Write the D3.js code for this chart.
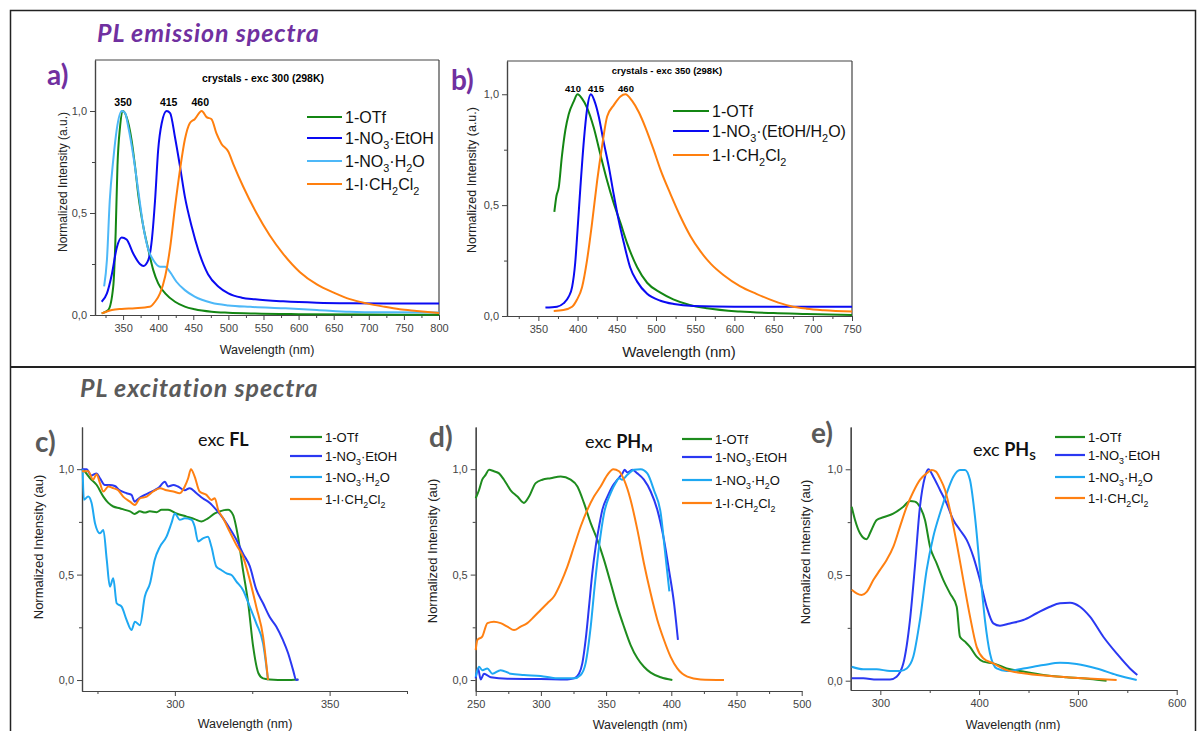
<!DOCTYPE html>
<html>
<head>
<meta charset="utf-8">
<script src="https://cdn.jsdelivr.net/npm/d3@7"></script>
<style>
  body { margin: 0; background: #fff; }
  svg text { font-family: "Liberation Sans", Arial, sans-serif; }
</style>
</head>
<body>
<div id="fig"></div>
<script>
// ---- a) emission, exc 300 ----
const aOTf = [[319.5,0.008],[329,0.025],[336,0.14],[339.4,0.40],[342,0.73],[345.6,0.92],[350,1.0],[355,0.97],[362,0.86],[367,0.73],[372,0.58],[379,0.43],[386,0.32],[393,0.22],[400,0.155],[410,0.106],[424,0.065],[438,0.041],[452,0.028],[476,0.016],[500,0.011],[538,0.007],[600,0.004],[700,0.002],[800,0.001]];
const aNO3EtOH = [[319.5,0.065],[327,0.106],[334,0.20],[341,0.33],[348,0.38],[355,0.37],[364.6,0.30],[374,0.25],[379,0.24],[386,0.27],[391,0.37],[395.5,0.56],[400,0.81],[405,0.94],[412,1.0],[417,0.99],[424,0.87],[431,0.73],[438,0.58],[448,0.43],[457,0.32],[471,0.20],[486,0.139],[500,0.106],[519,0.085],[538,0.077],[578,0.067],[626,0.06],[673,0.057],[721,0.056],[800,0.056]];
const aNO3H2O = [[323,0.14],[327,0.27],[331,0.56],[336,0.76],[341,0.91],[348,1.0],[353,0.99],[357.5,0.92],[364.6,0.78],[372,0.60],[379,0.43],[386,0.32],[393,0.27],[402.6,0.237],[410,0.237],[417,0.21],[426,0.163],[438,0.122],[452,0.09],[476,0.06],[500,0.047],[531,0.04],[578,0.033],[626,0.025],[673,0.016],[721,0.013],[800,0.012]];
const aICH2Cl2 = [[319.5,0.008],[334,0.025],[348,0.03],[367,0.033],[388,0.04],[395.5,0.065],[402.6,0.106],[410,0.19],[417,0.33],[424,0.53],[431,0.71],[438,0.86],[445,0.94],[452,0.96],[462,1.0],[469,0.97],[476,0.96],[483,0.89],[490,0.84],[500,0.80],[507,0.74],[521,0.63],[540,0.50],[559,0.39],[578,0.30],[602,0.21],[626,0.15],[650,0.11],[673,0.078],[697,0.057],[721,0.041],[744,0.028],[768,0.02],[800,0.01]];

// ---- b) emission, exc 350 ----
const bOTf = [[370.4,0.47],[373,0.54],[376,0.58],[380,0.72],[384.5,0.84],[388.7,0.91],[395,0.967],[400,1.0],[405.7,0.98],[412,0.94],[420.6,0.85],[429,0.73],[437.7,0.61],[446,0.51],[454.7,0.42],[463,0.33],[476,0.22],[488.7,0.15],[505.7,0.105],[522,0.075],[543,0.05],[565,0.035],[607,0.02],[650,0.013],[692,0.009],[750,0.004]];
const bNO3 = [[359,0.038],[373.8,0.042],[382,0.057],[388.7,0.087],[393,0.13],[397,0.24],[400,0.39],[403.6,0.58],[408,0.79],[412,0.93],[417,1.0],[421.5,0.97],[427,0.90],[433,0.79],[440,0.67],[446,0.55],[452.5,0.43],[459,0.33],[467,0.22],[476,0.155],[488.7,0.10],[505.7,0.069],[522.8,0.054],[548,0.045],[600,0.042],[650,0.042],[700,0.042],[750,0.042]];
const bICH2Cl2 = [[369.6,0.023],[382,0.027],[393,0.042],[399,0.072],[405.7,0.13],[412,0.25],[418.5,0.42],[425,0.61],[431,0.76],[437.7,0.90],[446,0.95],[454.7,0.99],[461,1.0],[469.6,0.97],[478,0.92],[486.6,0.85],[497,0.75],[505.7,0.66],[518.5,0.55],[531,0.45],[544,0.36],[557,0.29],[570,0.235],[586,0.185],[607,0.135],[628,0.1],[650,0.068],[671,0.045],[692,0.033],[714,0.026],[750,0.02]];

// ---- c) excitation FL ----
const cOTf = [[270.4,1.0],[272.6,0.957],[274.7,0.926],[276.9,0.87],[278.5,0.84],[280.1,0.823],[282.2,0.815],[283.9,0.807],[285.5,0.80],[287,0.788],[288.7,0.80],[290.3,0.794],[291.9,0.80],[294.1,0.796],[295.7,0.807],[297.8,0.807],[300.5,0.79],[303.8,0.775],[306.4,0.763],[308.6,0.752],[310.7,0.767],[312.9,0.79],[314.5,0.80],[317.2,0.807],[318.8,0.783],[320.4,0.68],[322,0.522],[323.7,0.364],[325.3,0.158],[327,0.032],[328.5,0.008],[330.6,0.003],[336,0.0],[339.8,0.003]];
const cNO3EtOH = [[269.9,1.0],[271.5,1.0],[273,0.97],[274.7,0.98],[275.8,0.957],[277.4,0.925],[279,0.925],[280.6,0.92],[282.2,0.90],[284.4,0.886],[286,0.878],[287,0.846],[288.2,0.86],[290.3,0.878],[292.5,0.894],[294.6,0.91],[296.8,0.94],[297.8,0.918],[299.5,0.925],[301,0.918],[303.2,0.90],[304.8,0.91],[307,0.886],[309,0.862],[311.3,0.84],[313.4,0.807],[315.6,0.767],[317.7,0.72],[319.9,0.665],[322,0.60],[324.2,0.54],[326.3,0.43],[328.5,0.364],[330.6,0.30],[332.8,0.253],[334.9,0.19],[336.6,0.127],[338.2,0.047],[339.2,0.0],[340,0.003]];
const cNO3H2O = [[270.2,1.0],[270.6,0.855],[272,0.87],[273.1,0.84],[274.2,0.744],[275.8,0.696],[276.9,0.712],[278,0.57],[279,0.443],[280.1,0.483],[281.2,0.364],[282.8,0.348],[284.4,0.285],[286,0.237],[287.1,0.277],[288.7,0.26],[290.3,0.396],[292,0.46],[293.5,0.57],[295.2,0.633],[297.3,0.68],[298.9,0.744],[300,0.79],[301.6,0.76],[303.2,0.767],[305.4,0.76],[306.4,0.728],[307.5,0.657],[309.1,0.672],[310.7,0.68],[311.8,0.633],[313.4,0.538],[315,0.522],[316.7,0.506],[318.3,0.498],[319.9,0.467],[322,0.427],[324.2,0.348],[326.3,0.269],[328.5,0.174],[330.1,0.0]];
const cICH2Cl2 = [[270,0.99],[272,0.99],[273.6,0.95],[274.7,0.976],[275.8,0.934],[276.9,0.894],[278.5,0.918],[280.1,0.91],[281.7,0.90],[283.3,0.87],[285.5,0.846],[287.1,0.83],[288.7,0.862],[290.9,0.87],[293,0.894],[295.2,0.91],[297.3,0.90],[299.5,0.894],[301.6,0.886],[303.2,0.918],[304.3,0.957],[305.2,1.0],[306.4,0.965],[308,0.894],[310.2,0.878],[311.8,0.854],[312.9,0.862],[314,0.807],[315.6,0.767],[317.7,0.704],[319.9,0.64],[322,0.585],[324.2,0.475],[326.3,0.348],[328.5,0.206],[330.1,0.0]];

// ---- d) excitation PH_M ----
const dOTf = [[250,0.862],[252.5,0.90],[255,0.95],[257.6,0.973],[260.2,0.997],[264,0.99],[267.9,0.98],[271.7,0.95],[276.8,0.90],[282,0.87],[287,0.84],[290.9,0.87],[296,0.934],[301.1,0.95],[307.5,0.957],[315.2,0.965],[322.8,0.95],[328,0.918],[333,0.84],[338.2,0.744],[343.3,0.665],[348.4,0.57],[353.5,0.46],[358.6,0.348],[363.7,0.253],[368.8,0.166],[374,0.103],[379,0.063],[384.2,0.035],[391.9,0.013],[400.8,0.0]];
const dNO3EtOH = [[250,0.008],[251.8,0.055],[253.8,0.003],[256.4,0.03],[261.5,0.013],[274.3,0.006],[299.8,0.005],[320.3,0.003],[325.4,0.008],[329.2,0.03],[331.8,0.08],[334.3,0.19],[336.9,0.348],[339.4,0.506],[342,0.633],[344.6,0.728],[347.1,0.807],[351,0.87],[354.8,0.918],[358.6,0.95],[362.5,0.98],[364.2,0.997],[366.3,0.984],[370.1,0.997],[374,0.98],[379,0.95],[384.2,0.894],[389.3,0.807],[394.4,0.665],[398.2,0.522],[402.1,0.364],[405.1,0.19]];
const dNO3H2O = [[250,0.016],[252.5,0.063],[255.1,0.047],[258.9,0.055],[262.8,0.03],[269.1,0.047],[276.8,0.03],[287,0.024],[299.8,0.019],[312.6,0.008],[325.4,0.008],[330.5,0.024],[334.3,0.08],[338.2,0.253],[341.2,0.443],[344.6,0.633],[348.4,0.79],[353.5,0.886],[357.3,0.934],[359.9,0.957],[362.4,0.95],[366.3,0.973],[371.4,0.997],[376.5,1.0],[381.6,0.98],[386.7,0.90],[391.9,0.79],[395,0.62],[398.5,0.42]];
const dICH2Cl2 = [[250,0.142],[251.3,0.19],[255,0.206],[259,0.27],[264,0.277],[269.1,0.27],[274.3,0.253],[279.4,0.237],[284.5,0.253],[289.6,0.27],[294.7,0.30],[299.8,0.332],[305,0.364],[310,0.396],[315.2,0.46],[320.3,0.538],[325.4,0.633],[330.5,0.728],[335.6,0.807],[340.7,0.87],[345.8,0.918],[351,0.973],[355.5,1.0],[359.9,0.99],[363.7,0.95],[368.8,0.854],[374,0.712],[379,0.554],[384.2,0.41],[389.3,0.285],[394.4,0.19],[399.5,0.11],[404.6,0.055],[412.3,0.016],[422.5,0.003],[440.4,0.0]];

// ---- e) excitation PH_S ----
const eOTf = [[271,0.823],[274.4,0.76],[279.4,0.697],[286,0.669],[291,0.713],[296.3,0.76],[303,0.773],[313,0.79],[323.3,0.823],[330,0.85],[335,0.847],[340,0.823],[345.2,0.76],[350.3,0.634],[357,0.555],[363.8,0.476],[370.5,0.413],[377.3,0.35],[380.6,0.208],[385.7,0.185],[390.7,0.16],[397.5,0.114],[404.2,0.09],[414.4,0.082],[427.9,0.058],[444.7,0.043],[465,0.027],[488.6,0.016],[512.2,0.008],[529,0.0]];
const eNO3EtOH = [[271,0.011],[282.8,0.011],[296.3,0.006],[309.8,0.006],[316.5,0.019],[323.3,0.082],[330,0.287],[335,0.539],[340.1,0.823],[345.2,0.965],[348.6,1.0],[353.6,0.965],[360.4,0.902],[367.1,0.839],[373.9,0.76],[380.6,0.713],[387.4,0.666],[394.1,0.587],[400.9,0.476],[407.6,0.35],[414.4,0.271],[421.1,0.26],[431.2,0.271],[444.7,0.287],[458.2,0.319],[471.7,0.35],[481.9,0.366],[492,0.369],[502.1,0.35],[512.2,0.303],[525.7,0.208],[539.2,0.129],[552.7,0.058],[560.1,0.027]];
const eNO3H2O = [[271,0.066],[282.8,0.054],[296.3,0.054],[309.8,0.046],[319.9,0.046],[326.7,0.058],[333.4,0.114],[340.1,0.287],[346.9,0.524],[353.6,0.681],[360.4,0.792],[367.1,0.886],[373.9,0.965],[380.6,0.997],[385.7,0.997],[390.7,0.95],[395.8,0.776],[400.9,0.524],[405.9,0.287],[411,0.129],[417.7,0.058],[427.9,0.046],[444.7,0.058],[465,0.074],[481.9,0.085],[498.7,0.079],[519,0.058],[539.2,0.027],[559.5,0.003]];
const eICH2Cl2 = [[271,0.43],[276,0.413],[281.1,0.405],[286.2,0.42],[292.9,0.476],[299.7,0.524],[306.4,0.571],[313.2,0.634],[319.9,0.729],[326.7,0.823],[333.4,0.894],[340.1,0.95],[346.9,0.981],[351.9,0.997],[356.3,0.989],[360.4,0.957],[365.5,0.902],[370.5,0.808],[377.3,0.65],[384,0.476],[390.8,0.303],[397.5,0.16],[404.2,0.106],[414.4,0.082],[427.9,0.05],[444.7,0.035],[471.7,0.022],[505.5,0.011],[539.2,0.003]];

// legend labels (_x = subscript)
const labels4 = ["1-OTf", "1-NO_3·EtOH", "1-NO_3·H_2O", "1-I·CH_2Cl_2"];
const labelsB = ["1-OTf", "1-NO_3·(EtOH/H_2O)", "1-I·CH_2Cl_2"];
const peaksA = [350, 415, 460];
const peaksB = [410, 415, 460];

const colTop = ["#138613", "#0a0af2", "#4db8f8", "#ff7f0e"];
const colBot = ["#1e8c1e", "#2a38f2", "#1ea8f2", "#ff8012"];

const svg = d3.select("#fig").append("svg").attr("width", 1200).attr("height", 731);

// outer frame + divider
svg.append("rect").attr("x", 10.5).attr("y", 10.5).attr("width", 1185).attr("height", 730)
   .attr("fill", "none").attr("stroke", "#222").attr("stroke-width", 1.5);
svg.append("line").attr("x1", 10).attr("x2", 1196).attr("y1", 367).attr("y2", 367)
   .attr("stroke", "#222").attr("stroke-width", 2);

svg.append("text").attr("x", 97).attr("y", 42).text("PL emission spectra")
   .style("font-family", "Lato, 'Open Sans', sans-serif").style("font-style", "italic")
   .style("font-weight", "bold").style("font-size", "25px").style("letter-spacing", "0.9px").attr("fill", "#7030a0");
svg.append("text").attr("x", 80).attr("y", 397).text("PL excitation spectra")
   .style("font-family", "Lato, 'Open Sans', sans-serif").style("font-style", "italic")
   .style("font-weight", "bold").style("font-size", "25px").style("letter-spacing", "0.9px").attr("fill", "#5a5a5a");

const comma = d => d3.format(".1f")(d).replace(".", ",");

function richText(sel, str, fs) {
    const parts = str.split(/_(\w)/);
    parts.forEach((p, i) => {
        if (!p) return;
        const t = sel.append("tspan").text(p);
        if (i % 2 === 1) t.attr("dy", fs * 0.3).style("font-size", (fs * 0.68) + "px");
        else if (i > 0) t.attr("dy", -fs * 0.3);
    });
}

function drawPanel(p) {
    const g = svg.append("g");
    const x = d3.scaleLinear().domain(p.xd).range(p.xr);
    const y = d3.scaleLinear().domain(p.yd).range(p.yr);

    const xAxis = g.append("g").attr("transform", `translate(0,${p.yr[0]})`)
        .call(d3.axisBottom(x).tickValues(p.xMajor).tickSize(5).tickSizeOuter(0).tickFormat(d3.format("d")));
    g.append("g").attr("transform", `translate(0,${p.yr[0]})`)
        .call(d3.axisBottom(x).tickValues(p.xMinor).tickSize(3).tickSizeOuter(0).tickFormat(""));
    g.append("g").attr("transform", `translate(${p.xr[0]},0)`)
        .call(d3.axisLeft(y).tickValues([0, 0.5, 1]).tickSize(5).tickSizeOuter(0).tickFormat(comma));
    g.append("g").attr("transform", `translate(${p.xr[0]},0)`)
        .call(d3.axisLeft(y).tickValues([0.25, 0.75]).tickSize(3).tickSizeOuter(0).tickFormat(""));
    g.selectAll(".domain").attr("stroke", "#444").attr("stroke-width", 1.2);
    g.selectAll(".tick line").attr("stroke", "#444");
    g.selectAll(".tick text").attr("fill", "#444").style("font-size", "11px")
     .style("font-family", "'Liberation Sans', Arial, sans-serif");
    xAxis.selectAll(".tick text").attr("y", 9);
    if (p.frame) {
        g.append("line").attr("x1", p.xr[0]).attr("x2", p.xr[1]).attr("y1", p.yr[1]).attr("y2", p.yr[1]).attr("stroke", "#444").attr("stroke-width", 1.2);
        g.append("line").attr("x1", p.xr[1]).attr("x2", p.xr[1]).attr("y1", p.yr[0]).attr("y2", p.yr[1]).attr("stroke", "#444").attr("stroke-width", 1.2);
    }

    const line = d3.line().x(d => x(d[0])).y(d => y(d[1])).curve(d3.curveMonotoneX);
    p.series.forEach((s, i) => {
        g.append("path").datum(s).attr("d", line).attr("fill", "none")
         .attr("stroke", p.colors[i]).attr("stroke-width", 2).attr("stroke-linejoin", "round");
    });

    // legend
    p.labels.forEach((lab, i) => {
        const ly = p.leg.y[i];
        g.append("line").attr("x1", p.leg.x).attr("x2", p.leg.x + p.leg.len)
         .attr("y1", ly).attr("y2", ly).attr("stroke", p.colors[i]).attr("stroke-width", 2.2);
        const t = g.append("text").attr("x", p.leg.x + p.leg.len + 3).attr("y", ly + p.leg.fs * 0.36)
         .style("font-size", p.leg.fs + "px").attr("fill", "#111");
        richText(t, lab, p.leg.fs);
    });

    // axis titles
    g.append("text").attr("x", p.xl[0]).attr("y", p.xl[1]).attr("text-anchor", "middle")
     .style("font-size", p.xl[2] + "px").attr("fill", "#222").text("Wavelength (nm)");
    g.append("text").attr("transform", `translate(${p.yl[0]},${p.yl[1]}) rotate(-90)`)
     .attr("text-anchor", "middle").attr("dy", "0.35em")
     .style("font-size", p.yl[2] + "px").attr("fill", "#222").text(p.yl[3]);

    // panel letter
    g.append("text").attr("x", p.letter[0]).attr("y", p.letter[1]).text(p.letter[2])
     .style("font-family", "Lato, 'Open Sans', sans-serif").style("font-weight", "bold")
     .style("font-size", "28px").attr("fill", p.letter[3]);
    return { g, x, y };
}

// a)
const pa = drawPanel({
    xd: [310, 800], xr: [95, 439], yd: [0, 1.25], yr: [315, 60], frame: true,
    xMajor: d3.range(350, 801, 50), xMinor: d3.range(325, 800, 50),
    series: [aOTf, aNO3EtOH, aNO3H2O, aICH2Cl2], colors: colTop, labels: labels4,
    leg: { x: 307, len: 35, fs: 16, y: [117, 138, 161, 184] },
    xl: [267, 354, 12.5], yl: [63, 182, 12, "Normalized Intensity (a.u.)"],
    letter: [47, 85, "a)", "#7030a0"]
});
pa.g.append("text").attr("x", 263).attr("y", 82).attr("text-anchor", "middle")
    .style("font-size", "10.5px").style("font-weight", "bold").text("crystals - exc 300 (298K)");
pa.g.selectAll(".peak").data(peaksA).join("text")
    .attr("x", d => pa.x(d)).attr("y", 105.5).attr("text-anchor", "middle")
    .style("font-size", "10.5px").style("font-weight", "bold").text(d => d);

// b)
const pb = drawPanel({
    xd: [310, 750], xr: [507, 852], yd: [0, 1.15], yr: [316, 61], frame: true,
    xMajor: d3.range(350, 751, 50), xMinor: d3.range(325, 750, 50),
    series: [bOTf, bNO3, bICH2Cl2], colors: [colTop[0], colTop[1], colTop[3]], labels: labelsB,
    leg: { x: 673, len: 36, fs: 16, y: [111, 131, 155] },
    xl: [679, 357, 15], yl: [472, 180, 12.5, "Normalized Intensity (a.u.)"],
    letter: [451, 90, "b)", "#7030a0"]
});
pb.g.append("text").attr("x", 667).attr("y", 74).attr("text-anchor", "middle")
    .style("font-size", "9.5px").style("font-weight", "bold").text("crystals - exc 350 (298K)");
pb.g.selectAll(".peak").data(peaksB).join("text")
    .attr("x", (d, i) => [573, 596, 626][i]).attr("y", 92).attr("text-anchor", "middle")
    .style("font-size", "9.5px").style("font-weight", "bold").text(d => d);

// c)
drawPanel({
    xd: [270, 375], xr: [82, 407], yd: [-0.052, 1.2], yr: [691, 427], frame: false,
    xMajor: [300, 350], xMinor: [275, 325, 375],
    series: [cOTf, cNO3EtOH, cNO3H2O, cICH2Cl2], colors: colBot, labels: labels4,
    leg: { x: 290, len: 32, fs: 13, y: [437, 456, 477, 499] },
    xl: [245, 728, 12.5], yl: [38, 547, 13, "Normalized Intensity (au)"],
    letter: [35, 452, "c)", "#5a5a5a"]
});
// d)
drawPanel({
    xd: [250, 500], xr: [475.7, 801.7], yd: [-0.052, 1.2], yr: [691, 427], frame: false,
    xMajor: d3.range(250, 501, 50), xMinor: d3.range(275, 500, 50),
    series: [dOTf, dNO3EtOH, dNO3H2O, dICH2Cl2], colors: colBot, labels: labels4,
    leg: { x: 682, len: 30, fs: 13, y: [439, 457, 480, 503] },
    xl: [640, 729, 12.5], yl: [432, 551, 13, "Normalized Intensity (au)"],
    letter: [429, 447, "d)", "#5a5a5a"]
});
// e)
drawPanel({
    xd: [270, 600], xr: [850.7, 1176.7], yd: [-0.044, 1.2], yr: [690, 427], frame: false,
    xMajor: [300, 400, 500, 600], xMinor: [350, 450, 550],
    series: [eOTf, eNO3EtOH, eNO3H2O, eICH2Cl2], colors: colBot, labels: labels4,
    leg: { x: 1055, len: 30, fs: 13, y: [437, 455, 477, 498] },
    xl: [1013, 729, 12.5], yl: [805, 552, 13, "Normalized Intensity (au)"],
    letter: [811, 443, "e)", "#5a5a5a"]
});

// "exc" headings
function excLabel(x0, y0, main, sub) {
    const t = svg.append("text").attr("x", x0).attr("y", y0)
        .style("font-family", "Lato, 'Open Sans', sans-serif").style("font-size", "18px").attr("fill", "#111");
    t.append("tspan").text("exc ");
    t.append("tspan").style("font-weight", "bold").text(main);
    if (sub) t.append("tspan").attr("dy", 4).style("font-weight", "bold").style("font-size", "12px").text(sub);
}
excLabel(198, 446, "FL", null);
excLabel(585, 448, "PH", "M");
excLabel(973, 456, "PH", "S");
</script>
</body>
</html>
